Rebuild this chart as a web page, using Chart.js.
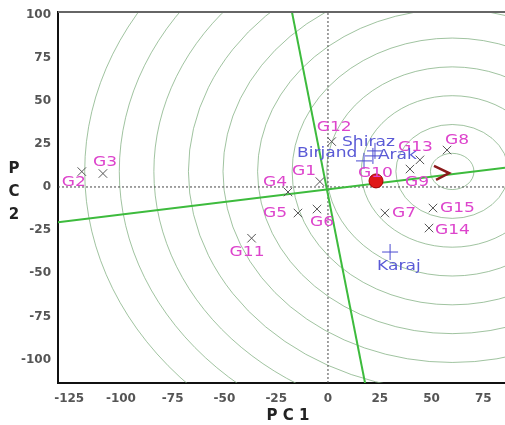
<!DOCTYPE html>
<html>
<head>
<meta charset="utf-8">
<script src="https://cdn.jsdelivr.net/npm/chart.js@4.4.1/dist/chart.umd.min.js"></script>
<style>
  body { margin: 0; background: #fff; }
  canvas { display: block; }
</style>
</head>
<body>
<canvas id="biplot" width="505" height="425"></canvas>
<script>
// axis ranges and tick labels
let xRange = [-130.4, 85.5];
let yRange = [-113.6, 101.4];
let xTicks = [-125, -100, -75, -50, -25, 0, 25, 50, 75];
let yTicks = [-100, -75, -50, -25, 0, 25, 50, 75, 100];

// genotypes
let genNames = ['G1', 'G2', 'G3', 'G4', 'G5', 'G6', 'G7', 'G8', 'G9', 'G10', 'G11', 'G12', 'G13', 'G14', 'G15'];
let genPC1 = [-3.9, -118.9, -108.7, -19.3, -14.5, -5.3, 27.5, 57.5, 39.6, 23.2, -36.9, 1.8, 44.4, 48.8, 50.7];
let genPC2 = [3.1, 8.9, 7.8, -2.9, -15.1, -12.8, -15.1, 21.4, 10.4, 3.5, -29.7, 26.3, 15.7, -23.8, -12.2];

// environments
let envNames = ['Shiraz', 'Birjand', 'Arak', 'Karaj'];
let envPC1 = [22.7, 17.4, 21.7, 30.0];
let envPC2 = [20.9, 15.1, 18.0, -37.7];

// average environment point
let idealPC1 = [23.2];
let idealPC2 = [3.5];

// average environment axis and its perpendicular
let aeaX = [-130.4, 85.5];
let aeaY = [-20.5, 11.1];
let perpX = [-17.4, 17.9];
let perpY = [101.4, -113.6];

// arrow head at the end of the axis
let arrowX = [51.2, 58.5, 52.2];
let arrowY = [12.2, 8.1, 4.1];

// concentric circles
let circleCenter = [60, 9];
let circleRadii = [10.5, 27.2, 43.9, 60.6, 77.3, 94, 110.7, 127.4, 144.1, 160.8, 177.5];

function pts(xs, ys) {
    return xs.map((v, i) => ({ x: v, y: ys[i] }));
}

// label offsets in pixels (placement only)
let genOffsets = {
    G1: [-28, -10], G2: [-20, 11], G3: [-10, -11], G4: [-25, -10], G5: [-35, 0],
    G6: [-7, 13], G7: [7, 0], G8: [-2, -10], G9: [-5, 13], G10: [-18, -8],
    G11: [-22, 14], G12: [-15, -14], G13: [-22, -13], G14: [6, 2], G15: [7, 0]
};
let envOffsets = {
    Shiraz: [-33, -9], Birjand: [-67, -8], Arak: [5, -1], Karaj: [-13, 14]
};

const circlesPlugin = {
    id: 'circles',
    beforeDatasetsDraw(chart) {
        const { ctx, chartArea: a, scales: { x, y } } = chart;
        ctx.save();
        ctx.beginPath();
        ctx.rect(a.left, a.top, a.right - a.left, a.bottom - a.top);
        ctx.clip();
        const cx = x.getPixelForValue(circleCenter[0]);
        const cy = y.getPixelForValue(circleCenter[1]);
        ctx.strokeStyle = 'rgba(120,170,120,0.7)';
        ctx.lineWidth = 1;
        circleRadii.forEach(r => {
            const rx = x.getPixelForValue(circleCenter[0] + r) - cx;
            const ry = cy - y.getPixelForValue(circleCenter[1] + r);
            ctx.beginPath();
            ctx.ellipse(cx, cy, rx, ry, 0, 0, 2 * Math.PI);
            ctx.stroke();
        });
        ctx.restore();
    }
};

function drawStretched(ctx, text, x, y, sx) {
    ctx.save();
    ctx.translate(x, y);
    ctx.scale(sx, 1);
    ctx.fillText(text, 0, 0);
    ctx.restore();
}

const labelsPlugin = {
    id: 'pointLabels',
    afterDatasetsDraw(chart) {
        const ctx = chart.ctx;
        ctx.save();
        ctx.textAlign = 'left';
        ctx.textBaseline = 'middle';
        ctx.font = '14px "DejaVu Sans"';
        ctx.fillStyle = '#dd44cc';
        chart.getDatasetMeta(5).data.forEach((p, i) => {
            const o = genOffsets[genNames[i]];
            drawStretched(ctx, genNames[i], p.x + o[0], p.y + o[1], 1.22);
        });
        ctx.fillStyle = '#5a5ad6';
        chart.getDatasetMeta(6).data.forEach((p, i) => {
            const o = envOffsets[envNames[i]];
            drawStretched(ctx, envNames[i], p.x + o[0], p.y + o[1], 1.22);
        });
        ctx.restore();
    },
    afterDraw(chart) {
        const { ctx, chartArea: a } = chart;
        ctx.save();
        // top frame line
        ctx.strokeStyle = '#666';
        ctx.lineWidth = 2;
        ctx.beginPath();
        ctx.moveTo(a.left, a.top);
        ctx.lineTo(a.right, a.top);
        ctx.stroke();
        // axis titles
        ctx.fillStyle = '#222';
        ctx.font = 'bold 15px "DejaVu Sans"';
        ctx.textAlign = 'center';
        ctx.textBaseline = 'middle';
        ctx.fillText('P C 1', 288, 416);
        ['P', 'C', '2'].forEach((c, i) => ctx.fillText(c, 14, 169 + i * 23));
        ctx.restore();
    }
};

new Chart(document.getElementById('biplot'), {
    type: 'scatter',
    data: {
        datasets: [{
            data: [{ x: xRange[0], y: 0 }, { x: xRange[1], y: 0 }],
            showLine: true,
            borderColor: '#444',
            borderWidth: 1,
            borderDash: [2, 2],
            pointRadius: 0,
            order: 10
        }, {
            data: [{ x: 0, y: yRange[0] }, { x: 0, y: yRange[1] }],
            showLine: true,
            borderColor: '#444',
            borderWidth: 1,
            borderDash: [2, 2],
            pointRadius: 0,
            order: 10
        }, {
            data: pts(aeaX, aeaY),
            showLine: true,
            borderColor: '#3dbb3d',
            borderWidth: 2,
            pointRadius: 0,
            order: 6
        }, {
            data: pts(perpX, perpY),
            showLine: true,
            borderColor: '#3dbb3d',
            borderWidth: 2,
            pointRadius: 0,
            order: 6
        }, {
            data: pts(arrowX, arrowY),
            showLine: true,
            borderColor: '#8b1a1a',
            borderWidth: 2.5,
            pointRadius: 0,
            order: 5
        }, {
            data: pts(genPC1, genPC2),
            pointStyle: 'crossRot',
            pointRadius: 6,
            borderColor: '#555',
            borderWidth: 1,
            order: 3
        }, {
            data: pts(envPC1, envPC2),
            pointStyle: 'cross',
            pointRadius: 8,
            borderColor: '#4a4ad0',
            borderWidth: 1,
            order: 2
        }, {
            data: pts(idealPC1, idealPC2),
            pointStyle: 'circle',
            pointRadius: 7,
            backgroundColor: '#e01818',
            borderColor: '#a00000',
            borderWidth: 1,
            order: 1
        }]
    },
    options: {
        responsive: false,
        animation: false,
        devicePixelRatio: 1,
        layout: { autoPadding: false, padding: { top: 12, left: 0, right: 0, bottom: 0 } },
        plugins: { legend: { display: false }, tooltip: { enabled: false } },
        scales: {
            x: {
                type: 'linear',
                min: xRange[0],
                max: xRange[1],
                afterBuildTicks: s => { s.ticks = xTicks.map(v => ({ value: v })); },
                afterFit: s => { s.height = 42; s.paddingLeft = 0; s.paddingRight = 0; },
                grid: { display: false, drawTicks: false },
                border: { display: true, color: '#111', width: 2 },
                ticks: {
                    padding: 9,
                    color: '#555',
                    font: { family: 'DejaVu Sans', size: 12, weight: 'bold' }
                }
            },
            y: {
                type: 'linear',
                min: yRange[0],
                max: yRange[1],
                afterBuildTicks: s => { s.ticks = yTicks.map(v => ({ value: v })); },
                afterFit: s => { s.width = 58; s.paddingTop = 0; s.paddingBottom = 0; },
                grid: { display: false, drawTicks: false },
                border: { display: true, color: '#111', width: 2 },
                ticks: {
                    padding: 7,
                    color: '#555',
                    font: { family: 'DejaVu Sans', size: 12, weight: 'bold' }
                }
            }
        }
    },
    plugins: [circlesPlugin, labelsPlugin]
});
</script>
</body>
</html>
